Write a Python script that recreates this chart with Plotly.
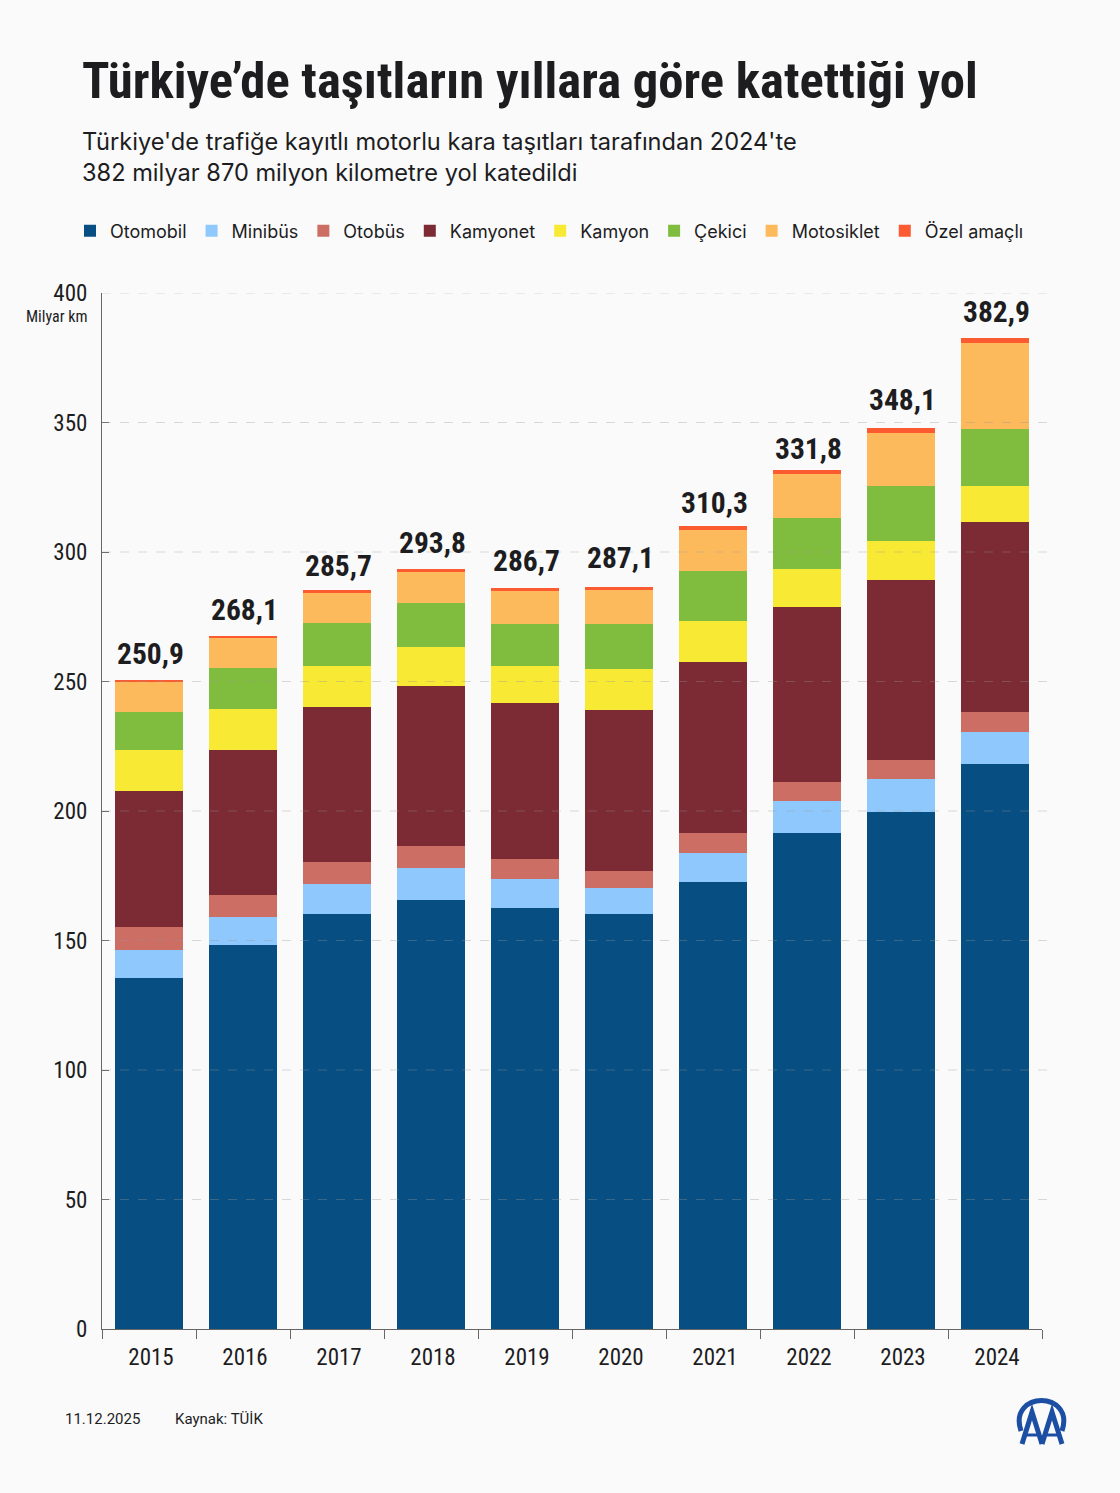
import plotly.graph_objects as go

years = ["2015", "2016", "2017", "2018", "2019", "2020", "2021", "2022", "2023", "2024"]
totals = ["250,9", "268,1", "285,7", "293,8", "286,7", "287,1", "310,3", "331,8", "348,1", "382,9"]

otomobil = [135.5, 148.1, 160.1, 165.5, 162.4, 160.1, 172.6, 191.7, 199.7, 218.0]
minibus = [10.8, 11.1, 11.8, 12.4, 11.3, 10.2, 11.3, 12.3, 12.7, 12.6]
otobus = [8.8, 8.5, 8.4, 8.5, 7.7, 6.4, 7.5, 7.2, 7.3, 7.5]
kamyonet = [52.6, 55.9, 59.9, 61.9, 60.3, 62.3, 66.2, 67.4, 69.6, 73.4]
kamyon = [15.9, 15.8, 15.7, 15.1, 14.3, 15.7, 15.8, 14.8, 15.0, 14.0]
cekici = [14.7, 15.8, 16.8, 16.8, 16.3, 17.6, 19.3, 19.7, 21.0, 22.0]
motosiklet = [11.8, 11.9, 11.4, 12.0, 12.8, 13.1, 15.8, 17.0, 20.8, 33.2]
ozel = [0.1, 0.2, 1.2, 1.1, 1.1, 1.2, 1.4, 1.6, 1.8, 1.8]

y_ticks = [0, 50, 100, 150, 200, 250, 300, 350, 400]

series = [
    ("Otomobil", otomobil, "#074f82"),
    ("Minibüs", minibus, "#8fc8fc"),
    ("Otobüs", otobus, "#cd6e65"),
    ("Kamyonet", kamyonet, "#7c2b35"),
    ("Kamyon", kamyon, "#f7e934"),
    ("Çekici", cekici, "#80bd3e"),
    ("Motosiklet", motosiklet, "#fdba5d"),
    ("Özel amaçlı", ozel, "#fc5a30"),
]

W, H = 1120, 1493
L, R, T, B = 102, 1042, 293, 1329
NARROW = "Roboto Condensed, Roboto"
INK = "#1d1d1f"
LOGO = "#1c4fa3"
AXIS = "#666666"

# the total labels were placed by hand in the original, px up from the bar top
label_lift = [8, 8, 5, 7, 8, 10, 4, 2, 9, 7]


def px(x):
    return (x - L) / (R - L)


def py_(y):
    return (B - y) / (B - T)


def note(x, y, text, size, family=NARROW, anchor="left", color=INK):
    return dict(xref="paper", yref="paper", x=px(x), y=py_(y), text=text, showarrow=False,
                xanchor=anchor, yanchor="middle",
                font=dict(family=family, size=size, color=color))


fig = go.Figure()
for name, values, color in series:
    fig.add_trace(go.Bar(x=years, y=values, name=name, marker=dict(color=color, line=dict(width=0))))

stack_tops = [sum(vals) for vals in zip(*[s[1] for s in series])]
annotations = [
    dict(x=i, y=top, yref="y", xref="x", text=f"<b>{label}</b>", showarrow=False,
         yanchor="bottom", yshift=lift, xshift=1, font=dict(family=NARROW, size=29.5, color=INK))
    for i, (top, label, lift) in enumerate(zip(stack_tops, totals, label_lift))
]
annotations += [
    note(80, 81, "<b>Türkiye’de taşıtların yıllara göre katettiği yol</b>", 50.7),
    note(80, 141, "Türkiye'de trafiğe kayıtlı motorlu kara taşıtları tarafından 2024'te", 23.6, "Inter"),
    note(80, 172, "382 milyar 870 milyon kilometre yol katedildi", 23.6, "Inter"),
    note(89, 317, "Milyar km", 16, anchor="right"),
    note(63, 1419, "11.12.2025", 15, "Roboto"),
    note(173, 1419, "Kaynak: TÜİK", 15, "Roboto"),
]


def logo_path(points):
    return "M" + "L".join(f"{px(x):.5f},{py_(y):.5f}" for x, y in points)


def logo_arc():
    return (f"M{px(1021):.5f},{py_(1431):.5f}"
            f"C{px(1014):.5f},{py_(1410):.5f} {px(1029):.5f},{py_(1400.5):.5f} {px(1041.5):.5f},{py_(1400.5):.5f}"
            f"C{px(1054):.5f},{py_(1400.5):.5f} {px(1069):.5f},{py_(1410):.5f} {px(1062):.5f},{py_(1431):.5f}")


shapes = [dict(type="line", xref="paper", yref="y", x0=px(102), x1=px(1048), y0=v, y1=v,
               line=dict(color="rgba(150,150,150,0.35)", width=1, dash="dash"))
          for v in y_ticks[1:]]
shapes.append(dict(type="path", xref="paper", yref="paper", path=logo_arc(), line=dict(color=LOGO, width=5)))
for ox in (0, 20):
    shapes.append(dict(type="path", xref="paper", yref="paper",
                       path=logo_path([(1022 + ox, 1444), (1032 + ox, 1412), (1042 + ox, 1444)]),
                       line=dict(color=LOGO, width=5)))
    shapes.append(dict(type="path", xref="paper", yref="paper",
                       path=logo_path([(1027 + ox, 1435), (1037 + ox, 1435)]),
                       line=dict(color=LOGO, width=3)))

fig.update_layout(
    width=W,
    height=H,
    margin=dict(l=L, r=W - R, t=T, b=H - B, autoexpand=False),
    paper_bgcolor="#fafafa",
    plot_bgcolor="#fafafa",
    barmode="stack",
    bargap=0.277,
    showlegend=True,
    legend=dict(orientation="h", x=px(70), y=py_(231), xanchor="left", yanchor="middle",
                traceorder="normal", bgcolor="rgba(0,0,0,0)",
                font=dict(family="Inter", size=18, color=INK)),
    annotations=annotations,
    shapes=shapes,
    xaxis=dict(type="category", range=[-0.5, 9.5], tickson="boundaries", ticks="outside", ticklen=9,
               tickwidth=1, tickcolor=AXIS, showline=True, linecolor=AXIS, linewidth=1,
               showgrid=False, tickangle=0, ticklabelstandoff=7, ticklabelshift=2,
               tickfont=dict(family=NARROW, size=23, color=INK)),
    yaxis=dict(range=[0, 400], tickvals=y_ticks, ticks="inside",
               ticklen=7, tickwidth=1, tickcolor=AXIS, showline=True, linecolor=AXIS,
               linewidth=1, showgrid=False, ticklabelstandoff=9,
               zeroline=False, tickfont=dict(family=NARROW, size=23, color=INK)),
)

narrow_css = """
document.body.style.margin = '0';
var st = document.createElement('style');
st.textContent = 'text[style*="Condensed"] {font-stretch: 75%;}';
document.head.appendChild(st);
"""
fig.write_html("out.html", config=dict(displayModeBar=False), post_script=narrow_css)
